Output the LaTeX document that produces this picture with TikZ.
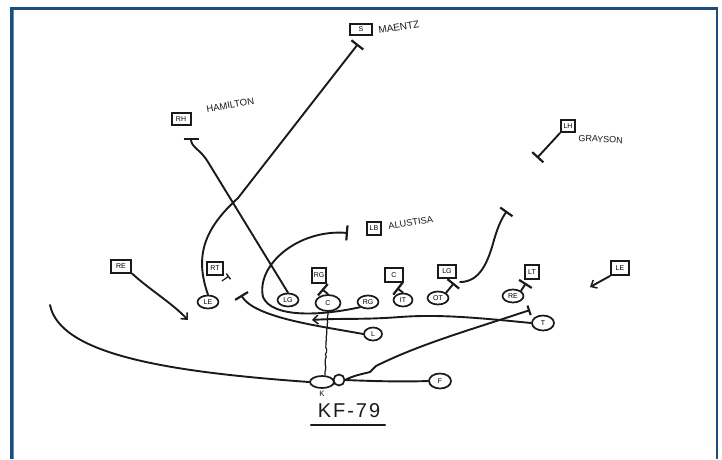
\documentclass[tikz,border=0pt]{standalone}
\usepackage{fontspec}
\setsansfont{Liberation Sans}
\usetikzlibrary{arrows.meta,shapes.geometric,decorations.pathmorphing}
\definecolor{frameblue}{HTML}{1D4E7B}
\definecolor{framelight}{HTML}{5D8DBD}
\definecolor{ink}{HTML}{1A1A1A}
\begin{document}
\begin{tikzpicture}[x=1pt,y=-1pt,
  dbox/.style={draw=ink, line width=2pt, inner sep=1.2pt, minimum height=12pt, minimum width=16pt, font=\sffamily\fontsize{7}{8}\selectfont},
  oval/.style={draw=ink, ellipse, line width=1.7pt, inner sep=0.3pt, minimum width=21pt, minimum height=13pt, font=\sffamily\fontsize{7}{8}\selectfont},
  route/.style={draw=ink, line width=1.9pt, line cap=round},
  blk/.style={route, -{Bar[width=15pt,line width=2.2pt]}},
  arr/.style={route, -{Straight Barb[length=5pt,width=9pt,line width=1.5pt]}},
  plname/.style={font=\sffamily, anchor=west, text=ink},
  framestyle/.style={draw=frameblue, line width=2.5pt}
]
\useasboundingbox[fill=white] (0,0) rectangle (722,459);
% frame
\draw[framestyle] (11.5,459) -- (11.5,8.5) -- (717,8.5) -- (717,459);
\draw[draw=framelight, line width=0.8pt] (13.6,459) -- (13.6,10);

% defense boxes
\node[dbox, minimum width=22pt, minimum height=11pt] (s) at (361,29) {S};
\node[dbox, minimum width=19pt] (rh) at (181,119) {RH};
\node[dbox, minimum width=14pt, minimum height=12pt] (lh) at (568,126) {LH};
\node[dbox, minimum width=14pt, minimum height=13pt] (lb) at (374,228) {LB};
\node[dbox, minimum width=20pt, minimum height=13pt] (reb) at (121,266) {RE};
\node[dbox, minimum width=16pt, minimum height=13pt] (rtb) at (215,268) {RT};
\node[dbox, minimum width=14pt, minimum height=15pt] (rgb) at (319,275) {RG};
\node[dbox, minimum width=18pt, minimum height=14pt] (cb) at (394,275) {C};
\node[dbox, minimum width=18pt, minimum height=13pt] (lgb) at (447,271) {LG};
\node[dbox, minimum width=14pt, minimum height=14pt] (ltb) at (532,272) {LT};
\node[dbox, minimum width=18pt, minimum height=14pt] (leb) at (620,268) {LE};

% names
\node[plname, font=\sffamily\fontsize{10}{11}\selectfont, rotate=9] at (375,31) {MAENTZ};
\node[plname, font=\sffamily\fontsize{9.5}{11}\selectfont, rotate=10] at (203,110) {HAMILTON};
\node[plname, font=\sffamily\fontsize{9}{10}\selectfont, rotate=-3] at (575,138) {GRAYSON};
\node[plname, font=\sffamily\fontsize{9.3}{10}\selectfont, rotate=9] at (385,227) {ALUSTISA};

% offense ovals
\node[oval] (oLE) at (208,302) {LE};
\node[oval] (oLG) at (288,300) {LG};
\node[oval, minimum width=25pt, minimum height=16pt] (oC) at (328,303) {C};
\node[oval] (oRG) at (368,302) {RG};
\node[oval, minimum width=19pt] (oIT) at (403,300) {IT};
\node[oval] (oOT) at (438,298) {OT};
\node[oval] (oRE) at (513,296) {RE};
\node[oval, minimum width=22pt, minimum height=15pt] (oT) at (543,323) {T};
\node[oval, minimum width=18pt] (oL) at (373,334) {L};
\node[oval, minimum width=24pt, minimum height=12pt] (oK) at (322,382) {};
\node[draw=ink, circle, line width=1.7pt, minimum size=11pt, inner sep=0pt] (kc) at (339,380) {};
\node[oval, minimum width=22pt, minimum height=15pt] (oF) at (440,381) {F};
\node[font=\sffamily\fontsize{8}{9}\selectfont, text=ink] (klab) at (322,394) {K};

% coordinates
\coordinate (sbar) at (358,44);
\coordinate (rhbar) at (191,138);
\coordinate (lhbar) at (537,158);
\coordinate (lbbar) at (348,233);
\coordinate (rgbar) at (322,289);
\coordinate (cbar) at (397,288);
\coordinate (lgbar) at (454,283);
\coordinate (lgend) at (507,211);
\coordinate (ltbar) at (526,283);
\coordinate (rtmark) at (222,281);
\coordinate (rtbar) at (229,276);
\coordinate (lbar) at (241,295);
\coordinate (tarr) at (312,320);
\coordinate (kbar) at (530,310);
\coordinate (leftend) at (50,305);
\coordinate (rearr) at (188,320);
\coordinate (learr) at (590,287);

% routes
\draw[blk] (oLE.north) .. controls (194,255) and (205,228) .. (238,198) -- (sbar);
\draw[blk] (oLG.north) -- (208,162) .. controls (201,150) and (191,147) .. (rhbar);
\draw[blk] (lh.south west) -- (lhbar);
\draw[blk] (oRG.south west) .. controls (320,316) and (272,318) .. (263,297) .. controls (256,265) and (298,229) .. (lbbar);
\draw[blk] (oC.north) -- (rgbar);
\draw[blk] (oIT.north) -- (cbar);
\draw[blk] (oOT.north east) -- (lgbar);
\draw[blk] ([xshift=6pt,yshift=1pt]lgbar) .. controls (480,282) and (488,262) .. (494,240) .. controls (498,226) and (502,218) .. (lgend);
\draw[blk] (oRE.north east) -- (ltbar);
\draw[route, line width=1.2pt, -{Bar[width=7pt,line width=1.4pt]}] (rtmark) -- (rtbar);
\draw[blk] (oL.west) .. controls (320,326) and (255,318) .. (lbar);
\draw[arr] (oT.west) .. controls (480,318) and (440,314) .. (400,317) .. controls (360,320) and (340,318) .. (tarr);
\draw[route, -{Bar[width=10pt,line width=2pt]}] (kc.east) .. controls (352,376) and (362,374) .. (370,372) -- (376,366) .. controls (420,344) and (470,330) .. (kbar);
\draw[route] (oF.west) .. controls (400,382) and (370,381) .. (kc.east);
\draw[route] (oK.west) .. controls (170,372) and (60,355) .. (leftend);
\draw[route, line width=1.2pt, decorate, decoration={random steps, segment length=2.5pt, amplitude=0.7pt}] (oC.south) -- ([xshift=3pt]oK.north);
\draw[arr] (reb.south east) .. controls (150,290) and (172,303) .. (rearr);
\draw[arr] (leb.south west) -- (learr);

% title
\node[font=\sffamily\fontsize{20}{22}\selectfont\addfontfeature{LetterSpace=10}, text=ink] (kf) at (349,411) {KF-79};
\coordinate (ul1) at (311,425);
\coordinate (ul2) at (385,425);
\draw[route, line width=2.2pt] (ul1) -- (ul2);
\end{tikzpicture}
\end{document}
